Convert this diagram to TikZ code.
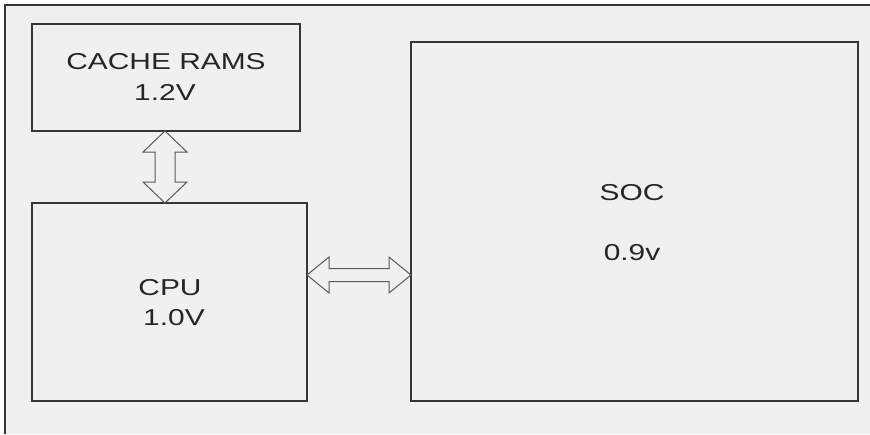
\documentclass[tikz,border=0pt]{standalone}
\usepackage{fontspec}
\setmainfont{Liberation Sans}
\usetikzlibrary{calc}
\definecolor{panel}{HTML}{F0F0F0}
\definecolor{edge}{HTML}{363636}
\definecolor{arrowgray}{HTML}{5A5A5A}
\newcommand{\widetxt}[1]{\scalebox{1.3}[1]{#1}}
\tikzset{
  block/.style={draw=edge, line width=1.4pt, inner sep=0pt, outer sep=0pt},
  label/.style={anchor=base, inner sep=0pt, font=\fontsize{23}{23}\selectfont, text=black!85},
  fatarrow/.style={draw=arrowgray, line width=1pt, fill=panel, line join=miter},
  frame/.style={draw=edge, line width=1.4pt}
}
\begin{document}
\begin{tikzpicture}[x=1pt, y=-1pt]
  % canvas and panel
  \useasboundingbox (0,0) rectangle (870,434);
  \fill[white] (0,0) rectangle (870,434);
  \fill[panel] (5,5) rectangle (870,434);
  \coordinate (ftop) at (870,5);
  \coordinate (fcorner) at (5,5);
  \coordinate (fbottom) at (5,434);
  \draw[frame] (ftop) -- (fcorner) -- (fbottom);

  % blocks
  \node[block, minimum width=268pt, minimum height=107pt] (cache) at (166,77.5) {};
  \node[block, minimum width=275pt, minimum height=198pt] (cpu) at (169.5,302) {};
  \node[block, minimum width=447pt, minimum height=359pt] (soc) at (634.5,221.5) {};

  % labels
  \node[label] (cachename) at (166,69) {\widetxt{CACHE RAMS}};
  \node[label] (cachevolt) at (165,100) {\widetxt{1.2V}};
  \node[label] (cpuname) at (170,295) {\widetxt{CPU}};
  \node[label] (cpuvolt) at (174,325) {\widetxt{1.0V}};
  \node[label] (socname) at (632,200) {\widetxt{SOC}};
  \node[label] (socvolt) at (632,260) {\widetxt{0.9v}};

  % cache <-> cpu (hollow double arrow)
  \coordinate (vt) at ($(cache.south)+(-1,0)$);
  \coordinate (vb) at (vt |- cpu.north);
  \draw[fatarrow] (vt) -- ($(vt)+(22,21)$) -- ($(vt)+(10,21)$) -- ($(vb)+(10,-21)$)
    -- ($(vb)+(22,-21)$) -- (vb) -- ($(vb)+(-22,-21)$) -- ($(vb)+(-10,-21)$)
    -- ($(vt)+(-10,21)$) -- ($(vt)+(-22,21)$) -- cycle;

  % cpu <-> soc (hollow double arrow)
  \coordinate (hl) at ($(cpu.east)+(0,-27)$);
  \coordinate (hr) at (soc.west |- hl);
  \draw[fatarrow] (hl) -- ($(hl)+(22,-18)$) -- ($(hl)+(22,-6.5)$) -- ($(hr)+(-22,-6.5)$)
    -- ($(hr)+(-22,-18)$) -- (hr) -- ($(hr)+(-22,18)$) -- ($(hr)+(-22,6.5)$)
    -- ($(hl)+(22,6.5)$) -- ($(hl)+(22,18)$) -- cycle;
\end{tikzpicture}
\end{document}
